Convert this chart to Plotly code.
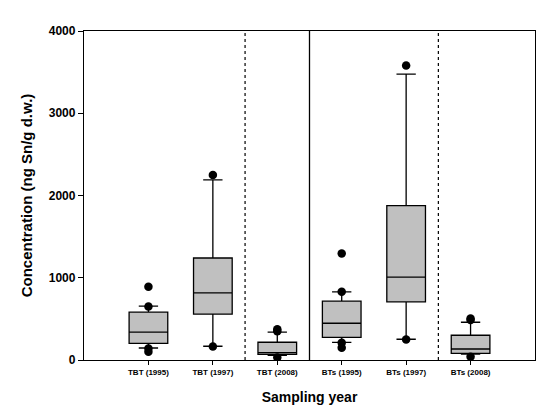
import plotly.graph_objects as go

categories = ["TBT (1995)", "TBT (1997)", "TBT (2008)", "BTs (1995)", "BTs (1997)", "BTs (2008)"]
positions = [1, 2, 3, 4, 5, 6]
q1 = [203, 557, 69, 276, 707, 81]
median = [338, 817, 89, 447, 1008, 134]
q3 = [581, 1240, 216, 715, 1878, 301]
lower_whisker = [146, 167, 57, 215, 252, 73]
upper_whisker = [655, 2191, 338, 829, 3476, 459]
outliers = [
    [890, 650, 140, 100],
    [2250, 165],
    [375, 350, 30],
    [1295, 830, 210, 150],
    [3580, 250],
    [505, 485, 40],
]
y_ticks = [0, 1000, 2000, 3000, 4000]
dotted_separators = [2.5, 5.5]
solid_separators = [3.5]

FONT = "Liberation Sans, Arial, sans-serif"

fig = go.Figure()
fig.add_trace(go.Box(
    x=positions, q1=q1, median=median, q3=q3,
    lowerfence=lower_whisker, upperfence=upper_whisker,
    width=0.6, whiskerwidth=0.5,
    fillcolor="#c0c0c0", line=dict(color="black", width=1.3),
    boxpoints=False, showlegend=False, hoverinfo="skip",
))
ox, oy = [], []
for p, vals in zip(positions, outliers):
    for v in vals:
        ox.append(p)
        oy.append(v)
fig.add_trace(go.Scatter(
    x=ox, y=oy, mode="markers",
    marker=dict(color="black", size=8.5, line=dict(width=0)),
    showlegend=False, hoverinfo="skip",
))

shapes = []
for s in dotted_separators:
    shapes.append(dict(type="line", xref="x", yref="paper", x0=s, x1=s, y0=0, y1=1,
                       line=dict(color="black", width=1.2, dash="dot")))
for s in solid_separators:
    shapes.append(dict(type="line", xref="x", yref="paper", x0=s, x1=s, y0=0, y1=1,
                       line=dict(color="black", width=1.3)))

fig.update_layout(
    width=552, height=408,
    margin=dict(l=84, r=17, t=31, b=48),
    paper_bgcolor="white", plot_bgcolor="white",
    font=dict(family=FONT, color="black"),
    shapes=shapes,
    xaxis=dict(
        range=[0, 7], tickmode="array", tickvals=positions, ticktext=categories,
        ticks="outside", ticklen=4, tickwidth=1.3, tickcolor="black",
        showline=True, mirror=True, linecolor="black", linewidth=1.3,
        showgrid=False, zeroline=False, automargin=False,
        tickfont=dict(family=FONT, size=8, weight="bold"),
        title=dict(text="Sampling year", font=dict(family=FONT, size=14, weight="bold"), standoff=16),
    ),
    yaxis=dict(
        range=[0, 4000], tickmode="array", tickvals=y_ticks,
        ticks="outside", ticklen=5, tickwidth=1.3, tickcolor="black",
        showline=True, mirror=True, linecolor="black", linewidth=1.3,
        showgrid=False, zeroline=False, automargin=False,
        tickfont=dict(family=FONT, size=12, weight="bold"),
        title=dict(text="Concentration (ng Sn/g d.w.)", font=dict(family=FONT, size=15, weight="bold"), standoff=12),
    ),
)
fig.write_html("out.html", config={"displayModeBar": False},
               post_script="document.body.style.margin='0';")
